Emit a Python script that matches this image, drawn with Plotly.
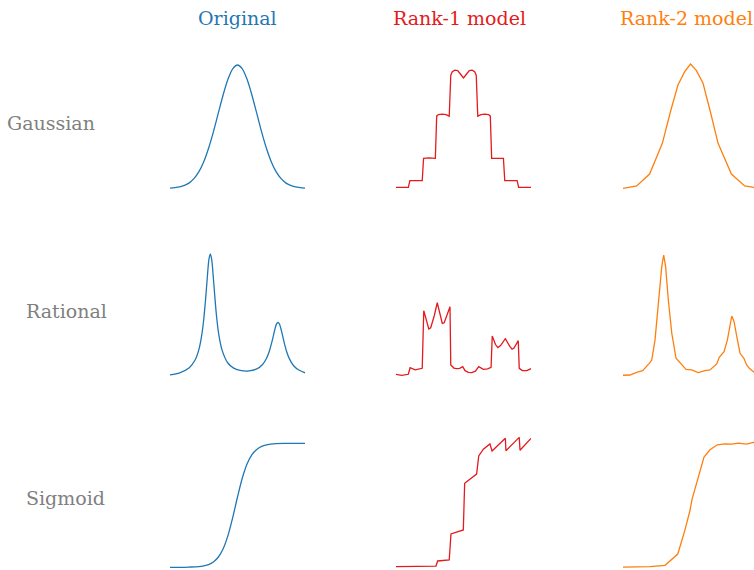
import plotly.graph_objects as go

W, H = 754, 570

# ---------------- data ----------------
col_titles = ["Original", "Rank-1 model", "Rank-2 model"]
row_labels = ["Gaussian", "Rational", "Sigmoid"]
col_colors = ["#1f77b4", "#e41a1c", "#ff7f0e"]

# Gaussian row
gauss_x = [-3.5, -3.25, -3.0, -2.75, -2.5, -2.25, -2.0, -1.75, -1.5, -1.25, -1.0,
           -0.75, -0.5, -0.25, 0.0, 0.25, 0.5, 0.75, 1.0, 1.25, 1.5, 1.75, 2.0,
           2.25, 2.5, 2.75, 3.0, 3.25, 3.5]
gauss_orig = [0.002, 0.005, 0.011, 0.023, 0.044, 0.080, 0.135, 0.216, 0.325, 0.458, 0.607,
              0.755, 0.882, 0.969, 1.000, 0.969, 0.882, 0.755, 0.607, 0.458, 0.325, 0.216, 0.135,
              0.080, 0.044, 0.023, 0.011, 0.005, 0.002]
gauss_r1_x = [-3.5, -2.86, -2.78, -2.14, -2.07, -1.78, -1.46, -1.39, -1.30, -1.10, -0.90, -0.74,
              -0.66, -0.58, -0.45, -0.30, -0.15, 0.0, 0.15, 0.30, 0.45, 0.58, 0.66, 0.74,
              0.90, 1.10, 1.30, 1.39, 1.46, 1.78, 2.07, 2.14, 2.78, 2.86, 3.5]
gauss_r1 = [0.008, 0.008, 0.062, 0.062, 0.243, 0.246, 0.243, 0.585, 0.598, 0.602, 0.598, 0.585,
            0.918, 0.945, 0.958, 0.955, 0.925, 0.895, 0.925, 0.955, 0.958, 0.945, 0.918, 0.585,
            0.598, 0.602, 0.598, 0.585, 0.243, 0.246, 0.243, 0.062, 0.062, 0.008, 0.008]
gauss_r2_x = [-3.5, -2.79, -2.12, -1.46, -1.04, -0.65, -0.30, 0.0, 0.31, 0.65, 1.03,
              1.43, 2.12, 2.81, 3.28, 3.5]
gauss_r2 = [0.000, 0.019, 0.116, 0.365, 0.621, 0.838, 0.946, 1.008, 0.954, 0.852, 0.621,
            0.365, 0.116, 0.019, 0.008, 0.006]

# Rational row
rat_x = [-3.5, -3.0, -2.5, -2.2, -2.0, -1.85, -1.75, -1.65, -1.55, -1.48, -1.41, -1.34,
         -1.27, -1.17, -1.07, -0.97, -0.8, -0.5, -0.2, 0.2, 0.6, 1.0, 1.3, 1.5, 1.65,
         1.8, 1.92, 2.02, 2.1, 2.18, 2.28, 2.4, 2.55, 2.7, 2.9, 3.2, 3.5]
rat_orig = [0.025, 0.042, 0.083, 0.145, 0.231, 0.350, 0.474, 0.644, 0.843, 0.958, 1.000, 0.958,
            0.843, 0.644, 0.474, 0.350, 0.225, 0.121, 0.080, 0.059, 0.057, 0.073, 0.109, 0.157, 0.216,
            0.301, 0.381, 0.434, 0.449, 0.433, 0.380, 0.299, 0.212, 0.152, 0.101, 0.062, 0.042]
rat_r1_x = [-3.5, -3.20, -2.86, -2.77, -2.51, -2.14, -2.06, -1.92, -1.80, -1.70, -1.52,
            -1.36, -1.20, -1.10, -1.00, -0.84, -0.70, -0.66, -0.50, -0.35, -0.20, -0.04,
            0.08, 0.25, 0.43, 0.62, 0.79, 1.03, 1.25, 1.43, 1.49, 1.66, 1.78, 1.92, 2.17,
            2.40, 2.52, 2.62, 2.84, 2.89, 3.05, 3.28, 3.5]
rat_r1 = [0.030, 0.022, 0.030, 0.083, 0.065, 0.078, 0.543, 0.450, 0.395, 0.405, 0.500,
          0.607, 0.490, 0.440, 0.445, 0.510, 0.575, 0.105, 0.080, 0.075, 0.078, 0.091,
          0.059, 0.045, 0.043, 0.055, 0.091, 0.070, 0.074, 0.086, 0.339, 0.270, 0.245, 0.262, 0.317,
          0.255, 0.232, 0.242, 0.301, 0.078, 0.060, 0.059, 0.075]
rat_r2_x = [-3.5, -3.14, -2.79, -2.48, -2.14, -2.01, -1.84, -1.67, -1.49, -1.39, -1.29,
            -1.15, -0.97, -0.75, -0.46, -0.23, 0.06, 0.40, 0.75, 1.01, 1.36, 1.49, 1.74,
            1.91, 2.14, 2.26, 2.40, 2.57, 2.77, 2.91, 3.05, 3.26, 3.5]
rat_r2 = [0.022, 0.024, 0.046, 0.059, 0.118, 0.145, 0.306, 0.575, 0.898, 0.992, 0.898,
          0.629, 0.360, 0.159, 0.105, 0.070, 0.065, 0.043, 0.059, 0.065, 0.113, 0.167, 0.212,
          0.306, 0.500, 0.454, 0.333, 0.199, 0.159, 0.105, 0.078, 0.051, 0.035]

# Sigmoid row
sig_x = [-3.5, -3.0, -2.5, -2.0, -1.75, -1.5, -1.25, -1.0, -0.75, -0.5, -0.25, 0.0,
         0.25, 0.5, 0.75, 1.0, 1.25, 1.5, 2.0, 2.5, 3.0, 3.5]
sig_orig = [0.000, 0.000, 0.002, 0.006, 0.012, 0.022, 0.043, 0.081, 0.147, 0.253, 0.400, 0.567,
            0.720, 0.835, 0.909, 0.951, 0.975, 0.987, 0.997, 0.999, 1.000, 1.000]
sig_r1_x = [-3.5, -2.12, -1.43, -1.34, -0.74, -0.65, -0.01, 0.06, 0.68, 0.79, 1.03,
            1.37, 1.48, 2.17, 2.20, 2.89, 2.93, 3.5]
sig_r1 = [0.005, 0.005, 0.010, 0.051, 0.059, 0.269, 0.301, 0.677, 0.752, 0.898, 0.952,
          0.995, 0.938, 1.040, 0.940, 1.048, 0.944, 1.040]
sig_r2_x = [-3.5, -2.10, -1.32, -0.66, -0.29, -0.03, 0.08, 0.70, 1.01, 1.39, 1.79,
            2.14, 2.48, 2.91, 3.26, 3.5]
sig_r2 = [0.002, 0.005, 0.016, 0.107, 0.300, 0.456, 0.548, 0.889, 0.948, 0.988, 0.996,
          0.994, 1.002, 0.994, 1.007, 1.004]

panels = [
    [(gauss_x, gauss_orig, "spline"), (gauss_r1_x, gauss_r1, "linear"), (gauss_r2_x, gauss_r2, "linear")],
    [(rat_x, rat_orig, "spline"), (rat_r1_x, rat_r1, "linear"), (rat_r2_x, rat_r2, "linear")],
    [(sig_x, sig_orig, "spline"), (sig_r1_x, sig_r1, "linear"), (sig_r2_x, sig_r2, "linear")],
]

# ---------------- layout geometry (pixels) ----------------
col_left = [170, 396, 623]          # left edge of each column's curve
col_span = 135                      # pixels covering x in [-3.5, 3.5]
row_zero_one = [(188.3, 65.0), (378.0, 254.0), (567.3, 443.3)]  # pixel rows of y=0 and y=1

fig = go.Figure()
layout_axes = {}

for r in range(3):
    p0, p1 = row_zero_one[r]
    s = p0 - p1
    bot = min(H, p0 + 0.15 * s)
    top = max(0, p1 - 0.15 * s)
    y_lo = -(bot - p0) / s
    y_hi = 1 + (p1 - top) / s
    ydom = [1 - bot / H, 1 - top / H]
    for c in range(3):
        i = r * 3 + c + 1
        left = col_left[c]
        right = min(W, left + col_span)
        xdom = [left / W, right / W]
        x_hi = -3.5 + (right - left) / col_span * 7.0
        xs, ys, shape = panels[r][c]
        fig.add_trace(go.Scatter(
            x=xs, y=ys, mode="lines",
            line=dict(color=col_colors[c], width=1.3, shape=shape, smoothing=0.8),
            xaxis=f"x{i}", yaxis=f"y{i}", showlegend=False, hoverinfo="skip",
        ))
        sx = "" if i == 1 else str(i)
        layout_axes[f"xaxis{sx}"] = dict(domain=xdom, range=[-3.5, x_hi], visible=False,
                                         anchor=f"y{i}", fixedrange=True)
        layout_axes[f"yaxis{sx}"] = dict(domain=ydom, range=[y_lo, y_hi], visible=False,
                                         anchor=f"x{i}", fixedrange=True)

fig.update_layout(**layout_axes)

font_family = "DejaVu Serif"
annotations = []
title_pos = [(237, 18), (459, 18), (686, 18)]
for c in range(3):
    px, py = title_pos[c]
    annotations.append(dict(
        text=col_titles[c], x=px / W, y=1 - py / H, xref="paper", yref="paper",
        xanchor="center", yanchor="middle", showarrow=False,
        font=dict(family=font_family, size=19, color=col_colors[c]),
    ))
label_pos = [(51, 123), (66, 311), (65.5, 498)]
for r in range(3):
    px, py = label_pos[r]
    annotations.append(dict(
        text=row_labels[r], x=px / W, y=1 - py / H, xref="paper", yref="paper",
        xanchor="center", yanchor="middle", showarrow=False,
        font=dict(family=font_family, size=19, color="#808080"),
    ))

fig.update_layout(
    width=W, height=H,
    margin=dict(l=0, r=0, t=0, b=0),
    paper_bgcolor="white", plot_bgcolor="white",
    font=dict(family=font_family),
    annotations=annotations,
)

fig.write_html("out.html", config={"displayModeBar": False})
